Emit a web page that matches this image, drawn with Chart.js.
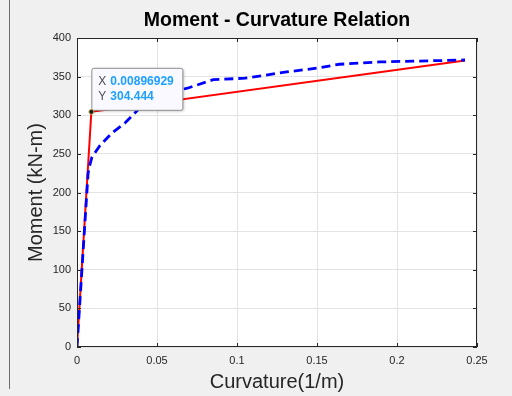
<!DOCTYPE html>
<html>
<head>
<meta charset="utf-8">
<script src="https://cdn.jsdelivr.net/npm/chart.js@4"></script>
<style>
  html, body { margin: 0; padding: 0; background: #f0f0f0; }
  #wrap { position: relative; width: 512px; height: 396px; }
  #edge { position: absolute; left: 9px; top: 0; width: 1px; height: 389px; background: #6e6e6e; }
  canvas { position: absolute; left: 0; top: 0; }
</style>
</head>
<body>
<div id="wrap">
  <canvas id="mc" width="512" height="396"></canvas>
  <div id="edge"></div>
</div>
<script>
// red: bilinear idealisation
const idealCurv = [0, 0.00896929, 0.2425];
const idealMoment = [0, 304.444, 371];

// blue dashed: analysis curve
const curv = [0, 0.0069, 0.0075, 0.0094, 0.0144, 0.0219, 0.030, 0.039, 0.0475, 0.058, 0.069, 0.085, 0.105, 0.131, 0.150, 0.164, 0.189, 0.210, 0.2425];
const moment = [0, 224, 232, 246, 261, 277, 290, 309, 320, 330, 335, 346, 348, 356, 361, 366, 369, 370, 371.5];

const xTicks = [0, 0.05, 0.1, 0.15, 0.2, 0.25];
const yTicks = [0, 50, 100, 150, 200, 250, 300, 350, 400];

const tipPoint = { x: 0.00896929, y: 304.444 };

const titleText = "Moment - Curvature Relation";
const xTitle = "Curvature(1/m)";
const yTitle = "Moment (kN-m)";

function pts(xs, ys) {
    return xs.map((x, i) => ({ x: x, y: ys[i] }));
}

const axisColor = "#262626";
const fontFam = "'Liberation Sans', Arial, sans-serif";

const boxPlugin = {
    id: "boxPlugin",
    beforeDraw(chart) {
        const a = chart.chartArea;
        const ctx = chart.ctx;
        ctx.save();
        ctx.fillStyle = "#ffffff";
        ctx.fillRect(a.left, a.top, a.right - a.left, a.bottom - a.top);
        ctx.restore();
    },
    afterDraw(chart) {
        const a = chart.chartArea;
        const ctx = chart.ctx;
        const cx = (a.left + a.right) / 2;
        const cy = (a.top + a.bottom) / 2;
        ctx.save();
        ctx.textAlign = "center";
        ctx.textBaseline = "middle";
        ctx.fillStyle = "#000000";
        ctx.font = "bold 19.5px " + fontFam;
        ctx.fillText(titleText, cx, 21);
        ctx.fillStyle = axisColor;
        ctx.font = "20px " + fontFam;
        ctx.fillText(xTitle, cx, 382);
        ctx.translate(36, cy);
        ctx.rotate(-Math.PI / 2);
        ctx.fillText(yTitle, 0, 0);
        ctx.restore();
    },
    afterDatasetsDraw(chart) {
        const a = chart.chartArea;
        const ctx = chart.ctx;
        const xs = chart.scales.x, ys = chart.scales.y;
        ctx.save();
        ctx.strokeStyle = axisColor;
        ctx.lineWidth = 1;
        ctx.strokeRect(a.left + 0.5, a.top + 0.5, a.right - a.left - 1, a.bottom - a.top - 1);
        // inward tick marks
        ctx.beginPath();
        xTicks.forEach(v => {
            const p = Math.round(xs.getPixelForValue(v)) + 0.5;
            ctx.moveTo(p, a.bottom); ctx.lineTo(p, a.bottom - 4);
            ctx.moveTo(p, a.top); ctx.lineTo(p, a.top + 4);
        });
        yTicks.forEach(v => {
            const p = Math.round(ys.getPixelForValue(v)) + 0.5;
            ctx.moveTo(a.left, p); ctx.lineTo(a.left + 4, p);
            ctx.moveTo(a.right, p); ctx.lineTo(a.right - 4, p);
        });
        ctx.stroke();

        // data tip
        const px = xs.getPixelForValue(tipPoint.x);
        const py = ys.getPixelForValue(tipPoint.y);
        const bx = px, by = py - 44, bw = 91, bh = 42;
        ctx.shadowColor = "rgba(0,0,0,0.25)";
        ctx.shadowBlur = 3;
        ctx.shadowOffsetX = 1;
        ctx.shadowOffsetY = 1;
        ctx.fillStyle = "#f9f9ff";
        ctx.beginPath();
        ctx.roundRect(bx + 0.5, by + 0.5, bw, bh, 2);
        ctx.fill();
        ctx.shadowColor = "transparent";
        ctx.strokeStyle = "#8f8f8f";
        ctx.stroke();

        ctx.textBaseline = "middle";
        ctx.textAlign = "left";
        ctx.font = "12px " + fontFam;
        ctx.fillStyle = "#4d4d4d";
        ctx.fillText("X", bx + 7, by + 14);
        ctx.fillText("Y", bx + 7, by + 29);
        ctx.font = "bold 12px " + fontFam;
        ctx.fillStyle = "#1ea0ff";
        ctx.fillText(String(tipPoint.x), bx + 19, by + 14);
        ctx.fillText(String(tipPoint.y), bx + 19, by + 29);

        ctx.beginPath();
        ctx.arc(px, py, 2.5, 0, Math.PI * 2);
        ctx.fillStyle = "#1a1a1a";
        ctx.fill();
        ctx.strokeStyle = "#d8c860";
        ctx.lineWidth = 0.8;
        ctx.stroke();
        ctx.restore();
    }
};

new Chart(document.getElementById("mc").getContext("2d"), {
    type: "line",
    data: {
        datasets: [
            {
                label: "Ideal",
                data: pts(idealCurv, idealMoment),
                borderColor: "#ff0000",
                borderWidth: 2,
                pointRadius: 0,
                tension: 0,
                order: 2,
            },
            {
                label: "Analysis",
                data: pts(curv, moment),
                borderColor: "#0000ff",
                borderWidth: 2.8,
                borderDash: [9, 5],
                pointRadius: 0,
                tension: 0,
                order: 1,
            },
        ],
    },
    options: {
        responsive: false,
        animation: false,
        events: [],
        layout: { padding: { left: 0, right: 35, top: 38, bottom: 0 } },
        plugins: {
            legend: { display: false },
            tooltip: { enabled: false },
            title: { display: false },
        },
        scales: {
            x: {
                type: "linear",
                min: 0,
                max: 0.25,
                afterBuildTicks: (s) => { s.ticks = xTicks.map(v => ({ value: v })); },
                afterFit: (s) => { s.height = 49; },
                border: { display: false },
                grid: { color: "#e3e3e3", drawTicks: false },
                ticks: {
                    color: axisColor,
                    padding: 7,
                    font: { family: fontFam, size: 11 },
                    callback: (v) => String(v),
                    maxRotation: 0,
                },
            },
            y: {
                min: 0,
                max: 400,
                afterBuildTicks: (s) => { s.ticks = yTicks.map(v => ({ value: v })); },
                afterFit: (s) => { s.width = 77; },
                border: { display: false },
                grid: { color: "#e3e3e3", drawTicks: false },
                ticks: {
                    color: axisColor,
                    padding: 6,
                    font: { family: fontFam, size: 11 },
                },
            },
        },
    },
    plugins: [boxPlugin],
});
</script>
</body>
</html>
